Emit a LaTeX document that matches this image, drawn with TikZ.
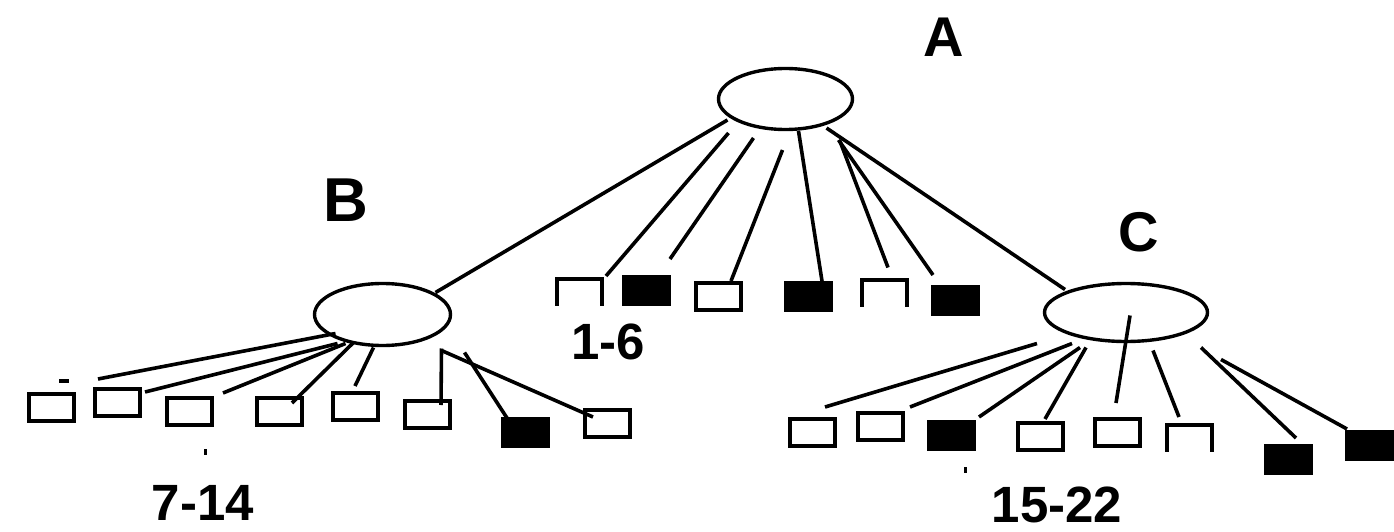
\documentclass[tikz,border=0pt]{standalone}
\usepackage{fontspec}
\setmainfont{Liberation Sans}
\usetikzlibrary{shapes.geometric,calc}
\begin{document}
\begin{tikzpicture}[x=1pt,y=-1pt,
  every node/.style={inner sep=0pt, outer sep=0pt},
  hub/.style={draw, ellipse, line width=3.4pt},
  leaf/.style={minimum width=45pt, minimum height=27pt, line width=4pt},
  openleaf/.style={leaf, draw},
  darkleaf/.style={leaf, draw, fill=black},
  capleaf/.style={leaf},
  capline/.style={line width=4pt},
  link/.style={line width=3.6pt},
  hubtag/.style={font=\bfseries\fontsize{#1}{#1}\selectfont},
  spanlabel/.style={font=\bfseries\fontsize{51}{54}\selectfont}
]
\useasboundingbox (0,0) rectangle (1394,532);

% hubs
\node[hub, minimum width=134pt, minimum height=61pt] (A) at (785.5,99) {};
\node[hub, minimum width=136pt, minimum height=62pt] (B) at (382.5,314.5) {};
\node[hub, minimum width=163pt, minimum height=58pt] (C) at (1126,312.5) {};

% hub letters
\node[hubtag=56] (lA) at (944,37) {A};
\node[hubtag=62] (lB) at (346,200) {B};
\node[hubtag=56] (lC) at (1139,232) {C};

% leaves of A
\node[capleaf]  (a1) at (579.5,292) {};
\node[darkleaf] (a2) at (646.5,290) {};
\node[openleaf] (a3) at (718.5,296) {};
\node[darkleaf] (a4) at (808,296.5) {};
\node[capleaf]  (a5) at (884,293) {};
\node[darkleaf] (a6) at (955.5,300) {};

% leaves of B
\node[openleaf] (b1) at (51.5,407.5) {};
\node[openleaf] (b2) at (117,402.5) {};
\node[openleaf] (b3) at (189,411.5) {};
\node[openleaf] (b4) at (279.5,411.5) {};
\node[openleaf] (b5) at (355.5,406.5) {};
\node[openleaf] (b6) at (427.5,414) {};
\node[darkleaf] (b7) at (525.5,432.5) {};
\node[openleaf] (b8) at (607,423) {};

% leaves of C
\node[openleaf] (c1) at (812,432) {};
\node[openleaf] (c2) at (880,426.5) {};
\node[darkleaf] (c3) at (951.5,435.5) {};
\node[openleaf] (c4) at (1040,436) {};
\node[openleaf] (c5) at (1117,432) {};
\node[capleaf]  (c6) at (1189,438) {};
\node[darkleaf] (c7) at (1288.5,459.5) {};
\node[darkleaf] (c8) at (1369,445.5) {};

% three-sided boxes
\foreach \n in {a1,a5,c6}
  \draw[capline] (\n.south west) -- (\n.north west) -- (\n.north east) -- (\n.south east);

% range labels
\node[spanlabel] (r1) at (608,342) {1-6};
\node[spanlabel] (r2) at (203,503) {7-14};
\node[spanlabel] (r3) at (1057,505) {15-22};

% A to its children
\draw[link] ($(A.center)+(-58,21)$) -- ($(B.center)+(53,-22)$);
\draw[link] ($(A.center)+(-57,34)$) -- ($(a1.center)+(26.5,-16)$);
\draw[link] ($(A.center)+(-32,39)$) -- ($(a2.center)+(23.5,-31)$);
\draw[link] ($(A.center)+(-3,51)$)  -- ($(a3.center)+(12.5,-15)$);
\draw[link] ($(A.center)+(13,32)$)  -- ($(a4.center)+(14,-15.5)$);
\draw[link] ($(A.center)+(54,41)$)  -- ($(a5.center)+(4,-25.5)$);
\draw[link] ($(A.center)+(53,41)$)  -- ($(a6.center)+(-22.5,-25)$);
\draw[link] ($(A.center)+(41,29)$)  -- ($(C.center)+(-61,-23)$);

% B to its children
\draw[link] ($(B.center)+(-47,19)$) -- ($(b2.center)+(-19,-23.5)$);
\draw[link] ($(b1.center)+(7.5,-26.5)$) -- ($(b1.center)+(17.5,-26.5)$);
\draw[link] ($(B.center)+(-45,29)$) -- ($(b2.center)+(28,-10.5)$);
\draw[link] ($(B.center)+(-37,29)$) -- ($(b3.center)+(34,-18.5)$);
\draw[link] ($(B.center)+(-29,28)$) -- ($(b4.center)+(12.5,-8.5)$);
\draw[link] ($(B.center)+(-9,33)$)  -- ($(b5.center)+(-0.5,-20.5)$);
\draw[link] ($(B.center)+(59,34)$)  -- ($(b6.center)+(13.5,-9)$);
\draw[link] ($(B.center)+(82,38)$)  -- ($(b7.center)+(-18.5,-14.5)$);
\draw[link] ($(B.center)+(59,36)$)  -- ($(b8.center)+(-14,-6)$);

% C to its children
\draw[link] ($(C.center)+(-89,31)$) -- ($(c1.center)+(13,-25)$);
\draw[link] ($(C.center)+(-54,31)$) -- ($(c2.center)+(30,-19.5)$);
\draw[link] ($(C.center)+(-46,35)$) -- ($(c3.center)+(27.5,-18.5)$);
\draw[link] ($(C.center)+(-40,35)$) -- ($(c4.center)+(5,-17)$);
\draw[link] ($(C.center)+(4,3)$)    -- ($(c5.center)+(-1,-29)$);
\draw[link] ($(C.center)+(27,38)$)  -- ($(c6.center)+(-10,-21)$);
\draw[link] ($(C.center)+(75,35)$)  -- ($(c7.center)+(7.5,-21.5)$);
\draw[link] ($(C.center)+(95,47)$)  -- ($(c8.center)+(-22,-16.5)$);

% stray specks under the leaf rows
\fill ($(b3.center)+(14.5,37.5)$) rectangle ++(3,6);
\fill ($(c3.center)+(12,31.5)$) rectangle ++(3,6);
\end{tikzpicture}
\end{document}
